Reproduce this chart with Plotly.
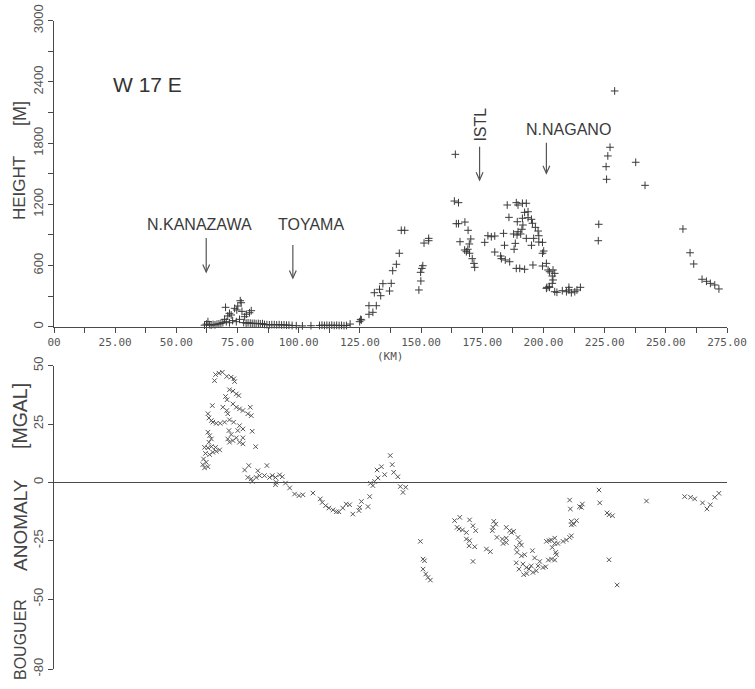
import plotly.graph_objects as go

# ---------------- data ----------------
# Top panel: topographic height [m] along the W17E profile, distance [km]
height_km = [
    61.5, 62.3, 62.9, 63.5, 64.2, 65.0, 65.8, 66.6, 67.4, 68.2, 69.0,
    69.7, 70.1, 70.4, 71.0, 71.7, 71.7, 72.4, 73.8, 74.5, 74.7, 75.1, 75.8, 76.1, 76.5,
    77.9, 78.6, 79.9, 80.6, 73.0, 76.8,
    77.5, 78.5, 79.3, 80.2, 81.0, 81.8, 82.6, 83.5, 84.3, 85.2,
    86.0, 87.0, 88.0, 89.0, 90.0, 91.0, 92.0, 93.0, 94.0, 95.0, 96.0, 97.3,
    99.0, 101.5, 105.0,
    108.5, 109.5, 110.5, 111.5, 112.5, 113.5, 114.5, 115.5, 116.5, 117.5, 118.5, 119.5,
    121.0, 124.9, 125.3, 125.6,
    128.7, 131.7, 128.7, 130.3, 130.9, 133.0, 133.5, 134.4, 137.1, 137.8, 138.4, 139.9,
    141.1, 141.9, 143.3,
    149.1, 149.9, 149.8, 150.3, 150.7, 151.2, 153.1, 153.1,
    164.0, 163.6, 165.3, 164.4, 165.3, 167.9, 169.2, 165.9, 170.3, 169.7, 167.8, 168.5,
    169.1, 169.8, 170.9, 171.6, 171.9,
    176.0, 177.3, 178.7, 180.1, 180.1, 182.5, 182.8, 184.4, 186.2, 185.2, 185.9, 183.7, 184.1,
    188.9, 189.6, 191.4, 193.0, 192.3, 193.7, 189.3, 191.4, 193.7, 195.1, 191.6, 195.5,
    189.6, 191.2, 187.8, 189.2, 190.7, 193.0, 196.0, 196.7, 197.8, 198.1, 198.1, 199.6,
    188.5, 188.0, 195.1, 200.1, 199.6, 188.9, 190.3, 192.3, 195.7, 199.6, 201.2, 201.9,
    202.5, 203.9, 204.6, 203.6, 201.4, 202.5, 203.6, 203.9, 204.6, 205.5, 202.3, 201.2,
    207.7, 209.4, 210.4, 210.4, 211.4, 212.8, 213.7, 215.1,
    222.6, 222.4, 225.8, 225.6, 226.3, 227.2, 229.1, 237.7, 241.5,
    257.0, 259.9, 261.4, 264.8, 266.6, 268.2, 270.0, 271.7,
]
height_m = [
    15, 25, 50, 20, 15, 22, 18, 25, 28, 32, 40,
    72, 190, 49, 105, 131, 39, 115, 180, 49, 164, 203, 72, 255, 235,
    98, 122, 137, 157, 60, 150,
    40, 35, 38, 35, 32, 33, 30, 32, 28, 30,
    22, 20, 18, 20, 20, 18, 20, 17, 18, 15, 15, 12,
    10, 8, 10,
    12, 15, 12, 14, 12, 15, 12, 14, 12, 13, 10, 12,
    26, 49, 72, 66,
    206, 206, 122, 141, 333, 367, 304, 422, 350, 425, 549, 612,
    720, 945, 945,
    360, 448, 533, 572, 598, 820, 843, 866,
    1690, 1232, 1216, 1010, 1010, 1026, 945, 833, 860, 811, 752, 735,
    759, 720, 667, 621, 582,
    827, 892, 882, 889, 732, 693, 667, 654, 637, 1193, 1072, 915, 798,
    1216, 1193, 1210, 1210, 1121, 1127, 1029, 1063, 1069, 1053, 997, 1014,
    931, 955, 909, 899, 909, 866, 866, 974, 938, 892, 830, 827,
    817, 759, 798, 742, 720, 572, 572, 563, 605, 595, 621, 556,
    539, 556, 523, 497, 386, 386, 425, 458, 343, 337, 392, 376,
    353, 343, 360, 386, 333, 343, 360, 386,
    1004, 843, 1445, 1569, 1674, 1759, 2311, 1612, 1386,
    958, 725, 615, 465, 445, 425, 409, 370,
]

# Bottom panel: Bouguer anomaly [mGal] along the same profile
bouguer_km = [
    66.0, 67.4, 68.8, 65.6, 70.6, 72.4, 73.5, 73.8,
    71.7, 73.1, 74.5, 75.5, 70.1, 70.7, 64.7,
    73.1, 74.5, 75.8, 77.2, 69.0, 70.6, 71.0,
    80.2, 79.2, 80.6,
    62.9, 63.3, 64.3, 64.9, 66.3, 67.9,
    69.7, 71.7, 73.4, 75.8, 75.1, 77.2, 81.0,
    71.5, 72.4, 71.0, 73.1, 71.7, 74.5, 77.2, 75.8, 77.2, 82.4,
    62.9, 63.6, 64.3, 63.3,
    61.5, 62.9, 64.3, 66.0,
    61.9, 63.6, 64.9, 66.3, 67.7,
    61.1, 62.2, 62.9, 61.5, 60.8,
    77.9, 79.6, 83.3, 87.0,
    79.2, 80.6, 82.6, 84.0, 86.0, 88.1, 89.2, 90.5, 92.2, 93.3, 81.0, 90.8, 90.5, 94.6,
    96.3, 98.3, 100.1, 101.7, 105.8, 108.8, 109.6, 111.0, 112.3, 114.0, 115.4, 116.4,
    118.0, 119.4, 120.8, 122.1, 124.6, 124.9, 125.6, 128.3, 129.0,
    129.3, 130.3, 131.0, 132.4, 132.0, 133.8, 135.1, 137.4, 138.2, 138.8, 140.5,
    141.5, 143.7, 142.6,
    149.7, 150.8, 151.4, 150.8, 151.9, 152.8, 153.8,
    163.7, 165.8, 164.7, 165.5, 169.8, 168.5, 171.2, 172.3, 166.9,
    168.5, 169.8, 169.6, 171.9, 171.2,
    176.7, 178.3,
    179.7, 180.5, 179.4, 179.1,
    181.0, 183.2, 184.8, 183.5, 184.8,
    184.8, 186.2, 187.8, 186.9,
    189.6, 190.3, 191.0,
    188.9, 189.2, 191.0, 192.3, 195.5, 196.4,
    190.0, 191.6, 191.9, 193.0, 194.1, 195.0, 195.7, 197.1, 197.8, 198.5, 199.8, 200.9,
    202.0, 203.3, 204.6, 193.2, 188.9,
    201.2, 202.3, 203.2, 204.6, 203.6, 204.6, 205.0, 205.3,
    205.9, 208.0, 209.4, 210.7, 211.4,
    210.7, 211.0,
    211.4, 212.4, 213.5, 211.4,
    214.8, 215.9, 215.5,
    222.7, 223.0,
    226.0, 226.8, 228.2,
    226.8, 230.1, 242.1,
    257.7, 260.1, 261.8,
    265.0, 266.8, 268.2, 270.0, 271.7,
]
bouguer_mgal = [
    46.2, 46.8, 47.2, 43.6, 45.4, 45.1, 44.4, 43.2,
    39.7, 39.1, 37.9, 37.2, 36.8, 35.4, 32.9,
    33.6, 32.2, 31.5, 30.8, 32.2, 30.8, 29.4,
    32.2, 29.4, 28.6,
    29.4, 27.6, 26.5, 25.8, 25.3, 25.3,
    25.8, 26.8, 25.8, 24.3, 22.2, 22.9, 21.9,
    22.2, 20.5, 18.6, 17.9, 17.2, 19.1, 19.1, 17.2, 16.5, 15.3,
    21.5, 20.0, 18.6, 17.2,
    15.0, 14.8, 15.3, 15.0,
    12.4, 11.9, 12.9, 13.3, 13.9,
    10.0, 8.6, 6.7, 6.2, 7.6,
    5.3, 7.2, 5.0, 7.2,
    2.1, 1.5, 2.1, 2.9, 2.9, 2.1, 2.9, 2.1, 3.2, 2.4, 0.4, 0.0, -1.0, -0.3,
    -2.4, -5.0, -5.7, -5.3, -4.6, -7.1, -8.6, -10.0, -11.0, -11.8, -12.6, -12.6,
    -11.0, -9.3, -9.6, -13.6, -12.1, -10.7, -8.2, -10.4, -6.1,
    -0.4, -1.4, 0.4, 1.9, 5.3, 6.7, 3.3, 11.5, 7.6, 4.3, 2.4,
    -1.8, -2.1, -4.3,
    -25.3, -32.9, -33.6, -37.2, -39.3, -40.8, -41.9,
    -16.4, -15.0, -19.3, -20.0, -16.1, -21.5, -18.6, -20.7, -20.4,
    -24.3, -25.0, -27.2, -27.6, -33.9,
    -28.6, -29.7,
    -16.7, -17.9, -19.3, -20.7,
    -23.6, -24.3, -23.9, -26.2, -25.8,
    -19.3, -20.7, -21.0, -21.5,
    -23.6, -25.8, -26.9,
    -27.9, -30.0, -31.5, -31.0, -29.3, -32.4,
    -37.2, -35.0, -39.6, -36.5, -37.2, -35.8, -38.6, -37.9, -35.8, -33.9, -36.5, -36.2,
    -33.3, -32.9, -33.3, -39.1, -34.5,
    -25.3, -25.0, -24.7, -23.9, -27.9, -26.2, -30.0, -31.0,
    -26.2, -25.3, -24.7, -23.6, -22.9,
    -7.6, -11.4,
    -16.7, -17.9, -16.4, -18.2,
    -10.4, -9.3, -10.7,
    -3.3, -8.8,
    -13.1, -13.9, -14.3,
    -33.2, -44.0, -8.0,
    -6.1, -6.4, -7.1,
    -8.8, -11.4, -9.6, -6.4, -4.7,
]

# Axis ticks
km_ticks = [i * 12.5 for i in range(23)]
km_labels = ["00" if v == 0 else (f"{v:.2f}" if v % 25 == 0 else "") for v in km_ticks]
height_ticks = list(range(0, 3001, 300))
height_labels = [str(v) if v % 600 == 0 else "" for v in height_ticks]
bouguer_ticks = [50, 25, 0, -25, -50, -80]
bouguer_labels = ["50", "25", "0", "-25", "-50", "-80"]

# Place-name markers (label, km position, arrow tail / tip height in m)
place_names = ["N.KANAZAWA", "TOYAMA", "ISTL", "N.NAGANO"]
place_km = [62.2, 97.6, 173.9, 201.2]
arrow_tail_m = [870, 801, 1765, 1804]
arrow_tip_m = [536, 477, 1438, 1504]

# ---------------- figure ----------------
# The page body margin is removed (post_script), so the figure fills the window.
W, H = 755, 689
INK = "#4a4a4a"
MONO = "DejaVu Sans Mono"
SANS = "Liberation Sans"


def px(x):
    return x / W


def py(y):
    return 1 - y / H


fig = go.Figure()
fig.add_trace(go.Scatter(
    x=height_km, y=height_m, mode="markers", xaxis="x", yaxis="y",
    marker=dict(symbol="cross-thin", size=5.5, line=dict(width=1.0, color="#3a3a3a")),
    cliponaxis=False, showlegend=False, hoverinfo="x+y",
))
fig.add_trace(go.Scatter(
    x=bouguer_km, y=bouguer_mgal, mode="markers", xaxis="x2", yaxis="y2",
    marker=dict(symbol="x-thin", size=4.5, line=dict(width=1.0, color="#555555")),
    cliponaxis=False, showlegend=False, hoverinfo="x+y",
))

xdom = [px(54), px(727)]
axis_common = dict(showgrid=False, showline=True, linecolor=INK, linewidth=1.4,
                   ticks="outside", ticklen=5, tickcolor=INK, tickwidth=1.2,
                   automargin=False, ticklabeloverflow="allow")

fig.update_layout(
    width=W, height=H,
    margin=dict(l=0, r=0, t=0, b=0, autoexpand=False),
    paper_bgcolor="white", plot_bgcolor="white",
    xaxis=dict(domain=xdom, range=[0, 275], anchor="y", zeroline=False,
               tickmode="array", tickvals=km_ticks, ticktext=km_labels,
               tickfont=dict(family=MONO, size=11, color="#555"), tickangle=0,
               **axis_common),
    yaxis=dict(domain=[py(326.7), py(20.7)], range=[0, 3000], anchor="x", zeroline=False,
               tickmode="array", tickvals=height_ticks, ticktext=height_labels,
               tickangle=-90, tickfont=dict(family=SANS, size=13, color="#555"),
               **axis_common),
    xaxis2=dict(domain=xdom, range=[0, 275], anchor="y2", visible=False, automargin=False),
    yaxis2=dict(domain=[py(669), py(365.7)], range=[-80, 50], anchor="x2",
                tickmode="array", tickvals=bouguer_ticks, ticktext=bouguer_labels,
                tickangle=-90, tickfont=dict(family=SANS, size=13, color="#555"),
                zeroline=True, zerolinecolor=INK, zerolinewidth=1.4,
                **axis_common),
)


def label(text, x, y, size, family=SANS, angle=0, color="#3a3a3a"):
    return dict(text=text, x=px(x), y=py(y), xref="paper", yref="paper",
                xanchor="center", yanchor="middle", showarrow=False,
                textangle=angle, font=dict(family=family, size=size, color=color))


ann = [label("W 17 E", 147, 84, 21, color="#333")]
# place names
name_pos = [(199, 224, 0), (310.5, 224, 0), (480.3, 124.3, -90), (568, 130, 0)]
for name, (tx, ty, ang) in zip(place_names, name_pos):
    ann.append(label(name, tx, ty, 16, angle=ang))
# axis titles (the scanned lettering varies a little in width)
for t, ty, sz in [("HEIGHT", 188, 17), ("[M]", 114, 18), ("BOUGUER", 640, 16),
                  ("ANOMALY", 525, 19), ("[MGAL]", 416, 19.5)]:
    ann.append(label(t, 20, ty, sz, angle=-90, color="#444"))
ann.append(label("(KM)", 390, 356, 11, family=MONO, color="#555"))
fig.update_layout(annotations=ann)

shapes = []
for k, tail, tip in zip(place_km, arrow_tail_m, arrow_tip_m):
    shapes.append(dict(type="line", xref="x", yref="y", x0=k, x1=k, y0=tail, y1=tip,
                       line=dict(color="#555", width=1.2)))
    shapes.append(dict(type="path", xref="x", yref="y",
                       path=f"M {k-1.4},{tip+75} L {k},{tip} L {k+1.4},{tip+75}",
                       line=dict(color="#555", width=1.2)))
fig.update_layout(shapes=shapes)

fig.write_html(
    "out.html",
    config={"displayModeBar": False},
    post_script="document.body.style.margin='0';document.body.style.overflow='hidden';",
)
